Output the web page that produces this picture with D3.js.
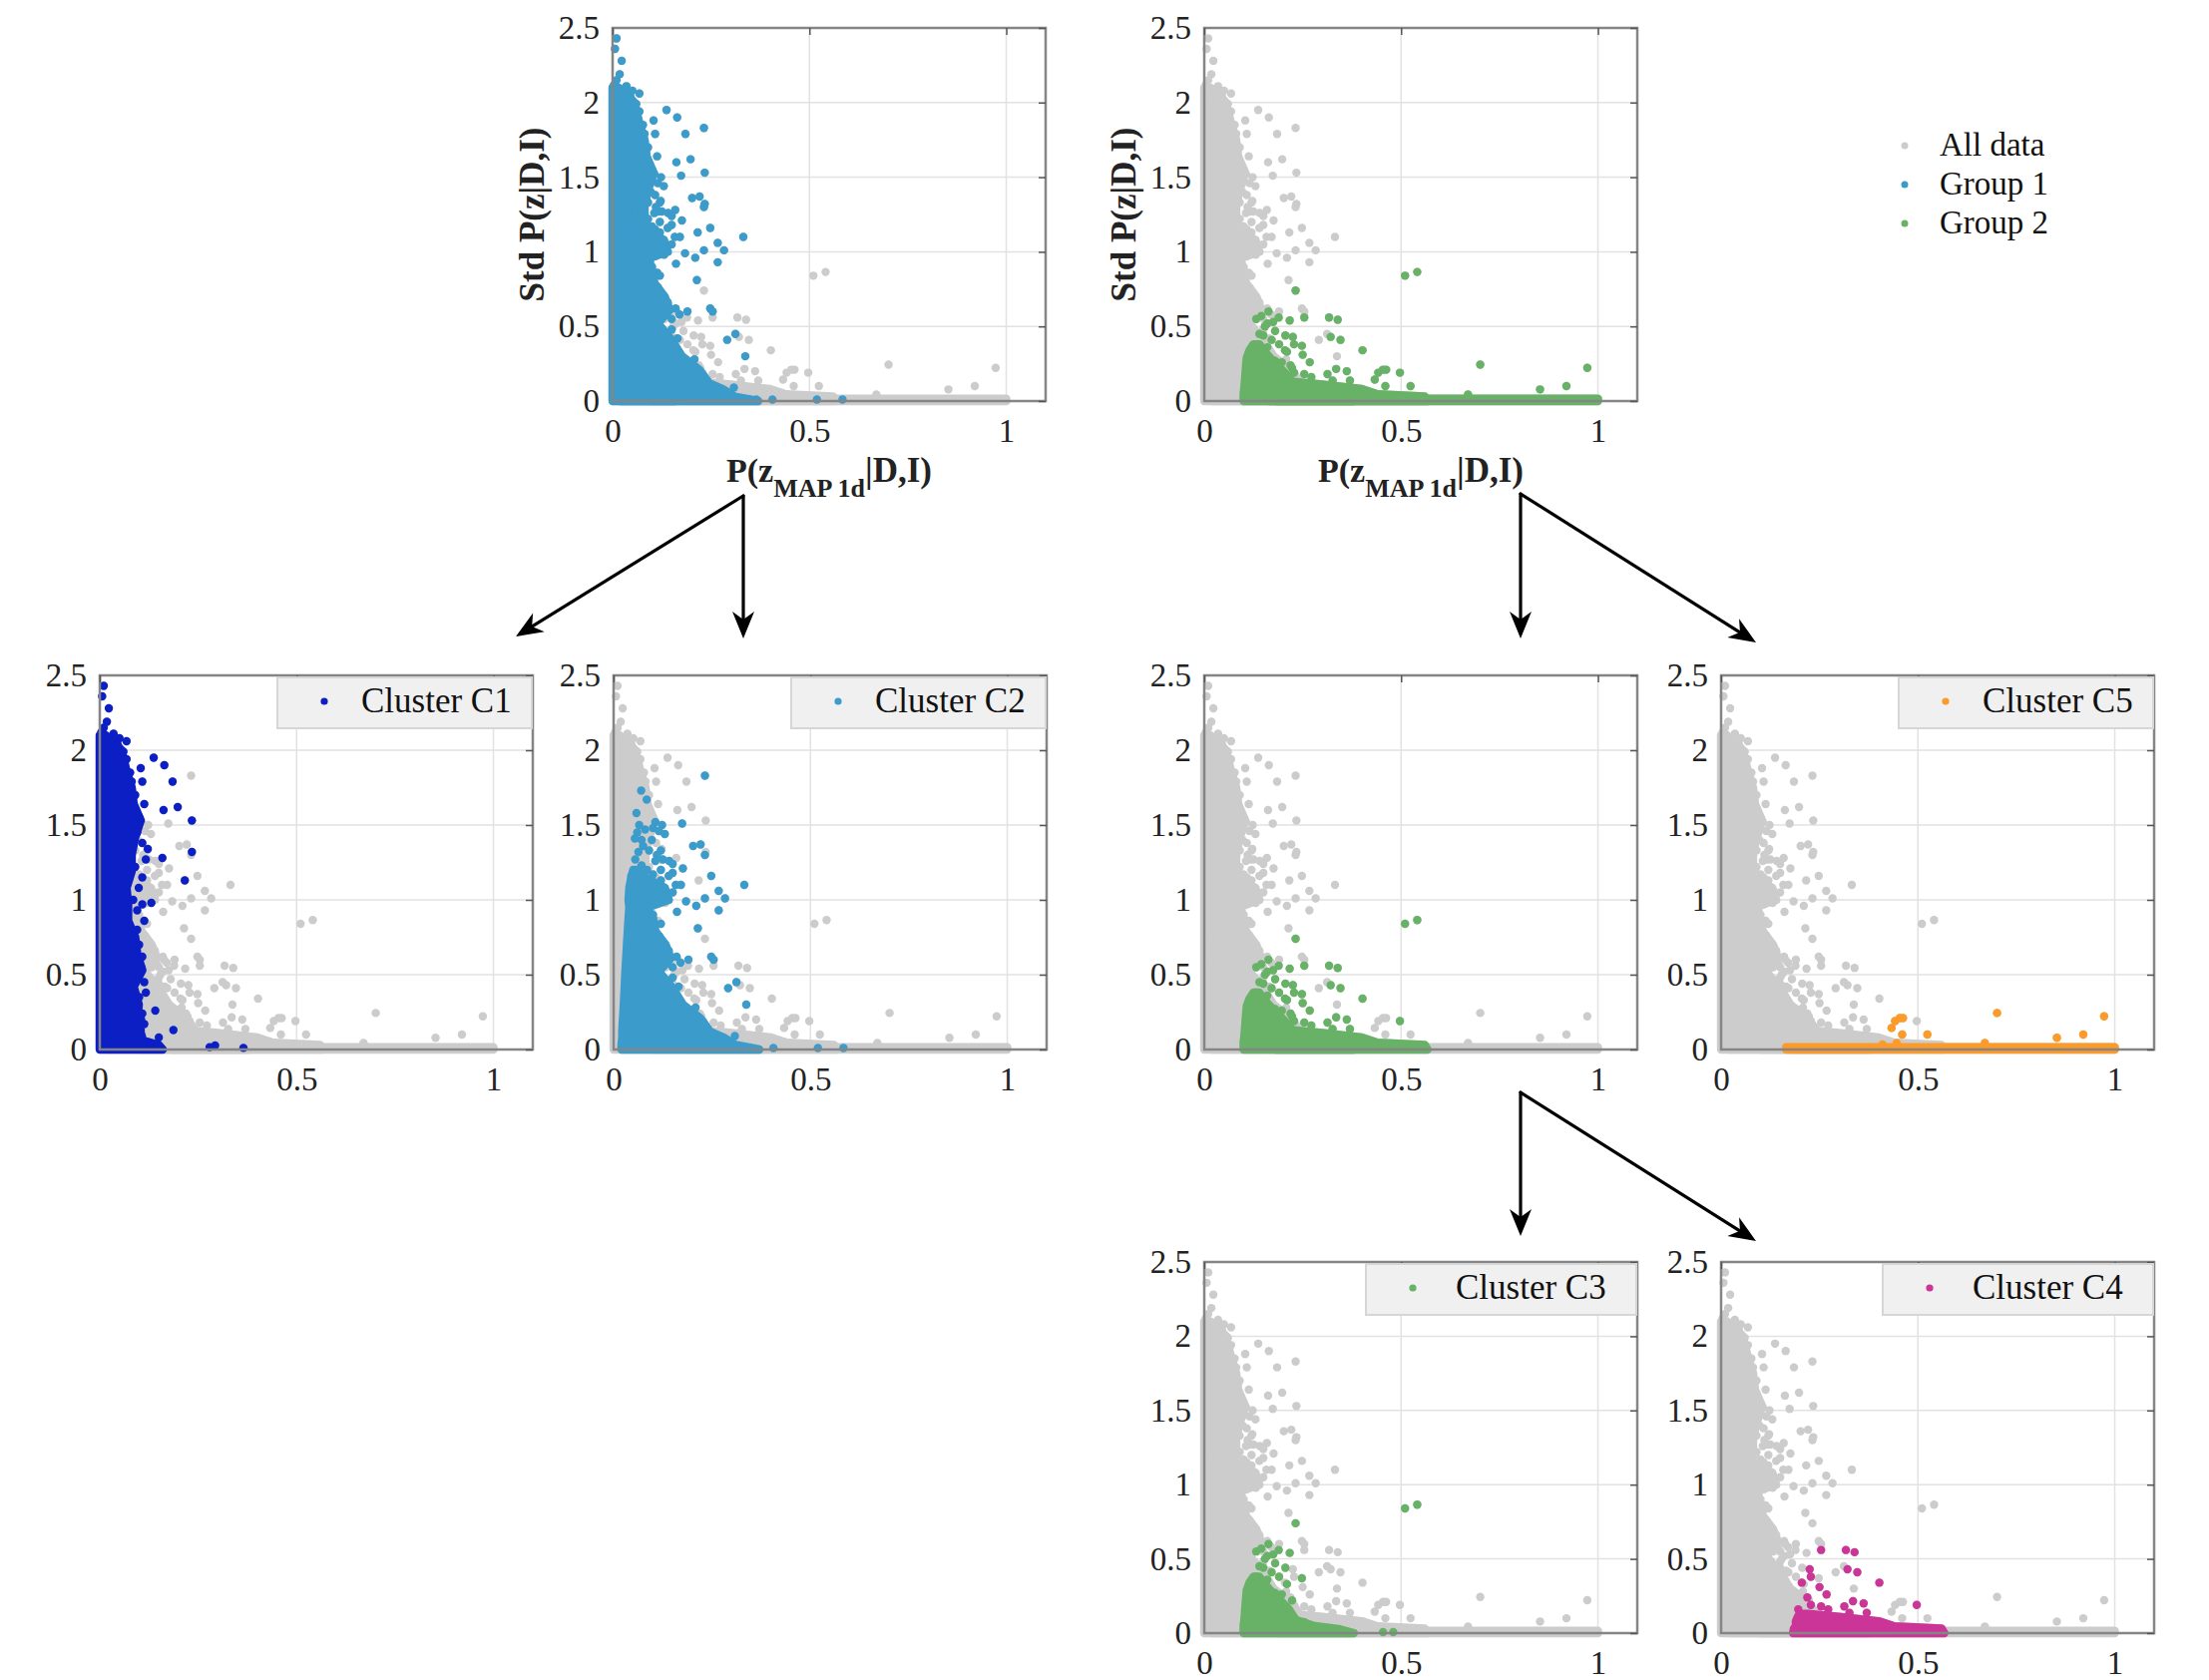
<!DOCTYPE html>
<html>
<head>
<meta charset="utf-8">
<script src="https://cdn.jsdelivr.net/npm/d3@7"></script>
<style>
body { margin: 0; background: #fff; }
text { font-family: "Liberation Serif", "Times New Roman", serif; }
</style>
</head>
<body>
<svg id="fig" width="2214" height="1684"></svg>
<script>
// ---- data ----
// dense part of each cluster: [y, x from, x to] per row
const c1Core = [[0, 0, 0.16], [0.03, 0, 0.15], [0.06, 0, 0.11], [0.19, 0, 0.095], [0.30, 0, 0.099],
    [0.42, 0, 0.086], [0.53, 0, 0.108], [0.64, 0, 0.095], [0.75, 0, 0.09], [0.86, 0, 0.072],
    [0.97, 0, 0.072], [1.08, 0, 0.068], [1.19, 0, 0.081], [1.30, 0, 0.081], [1.42, 0, 0.09],
    [1.53, 0, 0.104], [1.64, 0, 0.086], [1.75, 0, 0.081], [1.86, 0, 0.068], [2.00, 0, 0.055],
    [2.06, 0, 0.035], [2.10, 0, 0.015]];
const c2Core = [[0, 0.02, 0.37], [0.03, 0.02, 0.31], [0.08, 0.022, 0.28], [0.12, 0.022, 0.245],
    [0.21, 0.024, 0.22], [0.30, 0.026, 0.176], [0.41, 0.028, 0.15], [0.52, 0.03, 0.115],
    [0.61, 0.032, 0.145], [0.70, 0.034, 0.132], [0.79, 0.036, 0.106], [0.88, 0.038, 0.10],
    [0.95, 0.04, 0.085], [1.00, 0.038, 0.14], [1.08, 0.04, 0.13], [1.15, 0.045, 0.08], [1.20, 0.05, 0.06]];
const c3Core = [[0, 0.10, 0.38], [0.025, 0.10, 0.345], [0.05, 0.10, 0.276], [0.09, 0.102, 0.232],
    [0.16, 0.104, 0.215], [0.23, 0.106, 0.19], [0.29, 0.108, 0.167], [0.34, 0.115, 0.15], [0.38, 0.125, 0.14]];
const c4Core = [[0, 0.183, 0.567], [0.03, 0.185, 0.56], [0.045, 0.19, 0.44], [0.08, 0.19, 0.40],
    [0.11, 0.195, 0.30], [0.13, 0.20, 0.22]];
const c5Core = [[0, 0.165, 1.0], [0.015, 0.165, 1.0]];

// scattered points: [x, y]
const c1Pts = [[0.010, 2.43], [0.006, 2.36], [0.023, 2.28], [0.018, 2.19], [0.010, 2.15], [0.004, 2.12],
    [0.068, 2.06], [0.045, 2.04], [0.060, 1.99], [0.068, 1.94], [0.137, 1.95], [0.164, 1.90], [0.104, 1.88],
    [0.077, 1.85], [0.108, 1.79], [0.185, 1.79], [0.081, 1.79], [0.113, 1.64], [0.162, 1.60], [0.198, 1.62],
    [0.234, 1.53], [0.108, 1.38], [0.122, 1.34], [0.117, 1.27], [0.159, 1.28], [0.234, 1.32], [0.108, 1.15],
    [0.216, 1.13], [0.099, 1.08], [0.108, 0.97], [0.131, 0.98], [0.095, 0.93], [0.113, 0.86], [0.108, 0.62],
    [0.113, 0.45], [0.117, 0.38], [0.141, 0.26], [0.108, 0.24], [0.113, 0.17], [0.104, 0.13], [0.187, 0.13],
    [0.150, 0.08], [0.279, 0.016], [0.293, 0.027], [0.365, 0.011],
    [0.090, 1.70], [0.100, 1.55], [0.095, 1.45], [0.090, 1.22], [0.085, 1.00], [0.095, 0.80], [0.100, 0.70],
    [0.105, 0.55], [0.100, 0.35], [0.105, 0.20], [0.120, 0.05], [0.130, 0.03], [0.050, 2.08], [0.035, 2.11]];
const c2Pts = [[0.232, 1.83], [0.070, 1.73], [0.084, 1.67], [0.058, 1.58], [0.065, 1.50], [0.106, 1.52],
    [0.123, 1.50], [0.174, 1.51], [0.054, 1.41], [0.071, 1.40], [0.097, 1.40], [0.063, 1.32], [0.120, 1.33],
    [0.202, 1.36], [0.221, 1.37], [0.232, 1.30], [0.106, 1.26], [0.141, 1.26], [0.071, 1.23], [0.176, 1.21],
    [0.150, 1.18], [0.248, 1.16], [0.045, 1.16], [0.120, 1.13], [0.158, 1.10], [0.171, 1.10], [0.332, 1.10],
    [0.267, 1.06], [0.232, 1.01], [0.283, 1.01], [0.184, 0.99], [0.210, 0.96], [0.161, 0.92], [0.267, 0.93],
    [0.214, 0.81], [0.120, 0.84], [0.248, 0.62], [0.254, 0.60], [0.150, 0.48], [0.165, 0.42], [0.170, 0.58],
    [0.190, 0.60], [0.291, 0.41], [0.312, 0.45], [0.337, 0.30], [0.208, 0.28], [0.308, 0.09], [0.406, 0.01],
    [0.519, 0.01], [0.584, 0.01],
    [0.060, 1.45], [0.080, 1.47], [0.100, 1.48], [0.115, 1.46], [0.130, 1.44], [0.075, 1.36], [0.090, 1.33],
    [0.110, 1.30], [0.125, 1.27], [0.150, 1.24], [0.055, 1.27], [0.085, 1.20], [0.120, 1.20], [0.060, 1.20],
    [0.100, 1.17], [0.140, 1.16], [0.070, 1.10], [0.090, 1.13], [0.110, 1.09], [0.150, 1.05], [0.130, 1.02],
    [0.050, 0.97], [0.075, 0.94], [0.100, 0.90], [0.115, 0.76], [0.140, 0.66], [0.160, 0.62], [0.150, 0.55]];
const c3Pts = [[0.132, 0.55], [0.145, 0.57], [0.163, 0.60], [0.189, 0.56], [0.217, 0.54], [0.154, 0.50],
    [0.180, 0.47], [0.171, 0.41], [0.206, 0.44], [0.140, 0.45], [0.160, 0.52], [0.175, 0.53], [0.150, 0.44],
    [0.132, 0.38], [0.190, 0.38], [0.160, 0.36], [0.248, 0.37], [0.210, 0.33], [0.180, 0.27], [0.197, 0.26],
    [0.223, 0.22], [0.232, 0.74], [0.510, 0.84], [0.541, 0.865], [0.254, 0.074], [0.454, 0.007], [0.480, 0.007]];
const c4Pts = [[0.254, 0.56], [0.317, 0.56], [0.339, 0.545], [0.225, 0.43], [0.228, 0.38], [0.205, 0.34],
    [0.321, 0.43], [0.346, 0.41], [0.402, 0.34], [0.250, 0.31], [0.268, 0.26], [0.219, 0.24], [0.497, 0.19],
    [0.196, 0.16], [0.201, 0.126], [0.228, 0.19], [0.254, 0.18], [0.272, 0.16], [0.313, 0.18], [0.335, 0.215],
    [0.362, 0.20], [0.370, 0.137], [0.326, 0.137], [0.393, 0.07], [0.353, 0.09], [0.241, 0.10], [0.281, 0.08]];
const c5Pts = [[0.433, 0.144], [0.442, 0.19], [0.454, 0.21], [0.462, 0.21], [0.460, 0.10], [0.524, 0.10],
    [0.701, 0.244], [0.973, 0.222], [0.920, 0.10], [0.853, 0.078], [0.670, 0.044], [0.410, 0.033], [0.446, 0.044]];

const clusterNames = ["C1", "C2", "C3", "C4", "C5"];
const xTicks = [0, 0.5, 1];
const yTicks = [0, 0.5, 1, 1.5, 2, 2.5];
const legendLabels = ["All data", "Group 1", "Group 2"];

const clusters = {
    C1: { core: c1Core, pts: c1Pts },
    C2: { core: c2Core, pts: c2Pts },
    C3: { core: c3Core, pts: c3Pts },
    C4: { core: c4Core, pts: c4Pts },
    C5: { core: c5Core, pts: c5Pts }
};

const gray = "#cccccc";
const blue = "#3b9bcb";
const darkBlue = "#0c1fc5";
const green = "#67b267";
const orange = "#fd9b2a";
const magenta = "#cb3597";

const W = 434;
const R = 4.2;

const panels = [
    { left: 614, top: 28, h: 374, show: ["C1", "C2"], color: blue, titles: true },
    { left: 1207, top: 28, h: 374, show: ["C3", "C4", "C5"], color: green, titles: true },
    { left: 100, top: 677, h: 375, show: ["C1"], color: darkBlue, legend: "Cluster C1", legW: 256 },
    { left: 615, top: 677, h: 375, show: ["C2"], color: blue, legend: "Cluster C2", legW: 256 },
    { left: 1207, top: 677, h: 375, show: ["C3", "C4"], color: green },
    { left: 1725, top: 677, h: 375, show: ["C5"], color: orange, legend: "Cluster C5", legW: 256 },
    { left: 1207, top: 1265, h: 372, show: ["C3"], color: green, legend: "Cluster C3", legW: 272 },
    { left: 1725, top: 1265, h: 372, show: ["C4"], color: magenta, legend: "Cluster C4", legW: 272 }
];

const arrows = [
    { from: [745, 497], to: [517, 638] },
    { from: [745, 497], to: [745, 640] },
    { from: [1524, 495], to: [1524, 640] },
    { from: [1524, 495], to: [1760, 644] },
    { from: [1524, 1095], to: [1524, 1239] },
    { from: [1524, 1095], to: [1760, 1244] }
];

const svg = d3.select("#fig");

function drawCluster(g, x, y, c, color) {
    const area = d3.area()
        .y(d => y(d[0]))
        .x0(d => x(d[1]))
        .x1(d => x(d[2]));
    g.append("path")
        .attr("d", area(c.core))
        .attr("fill", color)
        .attr("stroke", color)
        .attr("stroke-width", 2 * R)
        .attr("stroke-linejoin", "round");
    g.append("g").selectAll("circle")
        .data(c.pts)
        .join("circle")
        .attr("cx", d => x(d[0]))
        .attr("cy", d => y(d[1]))
        .attr("r", R)
        .attr("fill", color);
}

function drawPanel(p) {
    const g = svg.append("g").attr("transform", `translate(${p.left},${p.top})`);
    const x = d3.scaleLinear().domain([0, 1.1]).range([0, W]);
    const y = d3.scaleLinear().domain([0, 2.5]).range([p.h, 0]);

    // grid
    g.append("g").selectAll("line")
        .data(xTicks.slice(1))
        .join("line")
        .attr("x1", d => x(d)).attr("x2", d => x(d))
        .attr("y1", 0).attr("y2", p.h)
        .attr("stroke", "#e2e2e2").attr("stroke-width", 1.5);
    g.append("g").selectAll("line")
        .data(yTicks.slice(1, -1))
        .join("line")
        .attr("x1", 0).attr("x2", W)
        .attr("y1", d => y(d)).attr("y2", d => y(d))
        .attr("stroke", "#e2e2e2").attr("stroke-width", 1.5);

    // all data in gray, then the highlighted clusters
    for (const k of clusterNames) drawCluster(g, x, y, clusters[k], gray);
    for (const k of p.show) drawCluster(g, x, y, clusters[k], p.color);

    // box
    g.append("rect")
        .attr("width", W).attr("height", p.h)
        .attr("fill", "none")
        .attr("stroke", "#858585").attr("stroke-width", 2.5);

    // inward ticks on top and right
    const top = g.append("g").call(d3.axisTop(x).tickValues(xTicks).tickSize(-7).tickFormat(""));
    const right = g.append("g").attr("transform", `translate(${W},0)`)
        .call(d3.axisRight(y).tickValues(yTicks).tickSize(-7).tickFormat(""));
    for (const a of [top, right]) {
        a.select(".domain").remove();
        a.selectAll("line").attr("stroke", "#555").attr("stroke-width", 1.5);
    }

    // tick labels
    const bottom = g.append("g").attr("transform", `translate(0,${p.h})`)
        .call(d3.axisBottom(x).tickValues(xTicks).tickSize(0).tickPadding(18).tickFormat(d3.format("")));
    const left = g.append("g")
        .call(d3.axisLeft(y).tickValues(yTicks).tickSize(0).tickPadding(13).tickFormat(d3.format("")));
    for (const a of [bottom, left]) {
        a.select(".domain").remove();
        a.selectAll("text").attr("font-size", 33).attr("fill", "#222")
            .attr("font-family", "'Liberation Serif', 'Times New Roman', serif");
    }

    if (p.titles) {
        g.append("text")
            .attr("transform", `translate(-69,${p.h / 2}) rotate(-90)`)
            .attr("text-anchor", "middle")
            .attr("font-size", 35).attr("font-weight", "bold").attr("fill", "#222")
            .text("Std P(z|D,I)");
        const t = g.append("text")
            .attr("x", W / 2).attr("y", p.h + 81)
            .attr("text-anchor", "middle")
            .attr("font-size", 34).attr("font-weight", "bold").attr("fill", "#222");
        t.append("tspan").text("P(z");
        t.append("tspan").attr("dy", 15).attr("font-size", 26).text("MAP 1d");
        t.append("tspan").attr("dy", -15).attr("font-size", 35).text("|D,I)");
    }

    if (p.legend) {
        const lx = W - p.legW;
        g.append("rect")
            .attr("x", lx).attr("y", 2)
            .attr("width", p.legW - 1).attr("height", 51)
            .attr("fill", "#f0f0f0").attr("stroke", "#d6d6d6").attr("stroke-width", 2);
        g.append("circle")
            .attr("cx", lx + 47).attr("cy", 26).attr("r", 3.6)
            .attr("fill", p.color);
        g.append("text")
            .attr("x", lx + (p.legW > 260 ? 90 : 84)).attr("y", 37)
            .attr("font-size", 35).attr("fill", "#111")
            .text(p.legend);
    }
}

panels.forEach(drawPanel);

// top-right legend
const legColors = [gray, blue, green];
const leg = svg.append("g").attr("transform", "translate(1909,156)");
leg.selectAll("circle")
    .data(legendLabels)
    .join("circle")
    .attr("cx", 0).attr("cy", (d, i) => i * 39 - 10)
    .attr("r", 3.5)
    .attr("fill", (d, i) => legColors[i]);
leg.selectAll("text")
    .data(legendLabels)
    .join("text")
    .attr("x", 35).attr("y", (d, i) => i * 39)
    .attr("font-size", 33).attr("fill", "#111")
    .text(d => d);

// arrows between panels
for (const a of arrows) {
    const [x1, y1] = a.from;
    const [x2, y2] = a.to;
    const ang = Math.atan2(y2 - y1, x2 - x1);
    const back = 14;
    svg.append("line")
        .attr("x1", x1).attr("y1", y1)
        .attr("x2", x2 - back * Math.cos(ang)).attr("y2", y2 - back * Math.sin(ang))
        .attr("stroke", "#000").attr("stroke-width", 3.2)
        .attr("stroke-linecap", "round");
    svg.append("path")
        .attr("d", "M0,0 L-27,-11 L-19,0 L-27,11 Z")
        .attr("transform", `translate(${x2},${y2}) rotate(${ang * 180 / Math.PI})`)
        .attr("fill", "#000");
}
</script>
</body>
</html>
